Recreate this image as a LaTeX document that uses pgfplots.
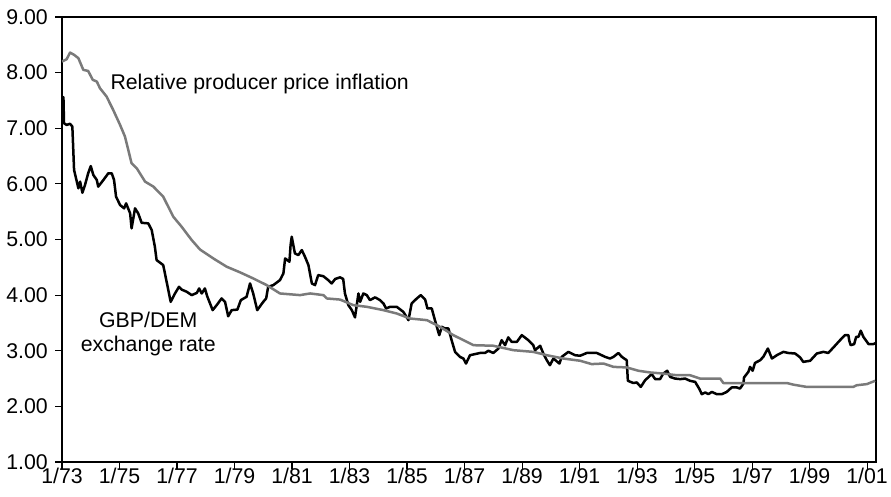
\documentclass[border=0pt]{standalone}
\usepackage{pgfplots}
\pgfplotsset{compat=1.18}
\usepackage{fontspec}
\setmainfont{Liberation Sans}
\definecolor{ppigray}{RGB}{122,122,122}
\pgfplotstableread{
x y
1973.00 8.20
1973.16 8.24
1973.28 8.36
1973.42 8.32
1973.57 8.26
1973.74 8.05
1973.91 8.03
1974.07 7.87
1974.21 7.84
1974.32 7.72
1974.55 7.57
1974.78 7.33
1975.02 7.06
1975.19 6.85
1975.42 6.37
1975.60 6.28
1975.89 6.04
1976.18 5.95
1976.52 5.77
1976.87 5.41
1977.16 5.23
1977.51 4.99
1977.80 4.82
1978.26 4.66
1978.73 4.51
1979.19 4.41
1979.65 4.30
1980.12 4.18
1980.58 4.03
1981.28 4.00
1981.63 4.03
1982.09 4.00
1982.21 3.94
1982.67 3.92
1983.13 3.82
1983.60 3.79
1984.18 3.73
1984.64 3.67
1985.10 3.58
1985.69 3.55
1986.15 3.43
1986.61 3.28
1987.08 3.16
1987.31 3.10
1988.00 3.09
1988.70 3.01
1989.39 2.98
1989.86 2.92
1990.44 2.86
1991.02 2.82
1991.42 2.76
1991.83 2.77
1992.18 2.71
1992.64 2.70
1993.05 2.64
1993.45 2.61
1993.91 2.59
1994.38 2.56
1994.84 2.56
1995.19 2.50
1995.89 2.50
1996.00 2.42
1996.82 2.42
1998.21 2.42
1998.44 2.39
1998.90 2.35
2000.52 2.35
2000.64 2.38
2000.99 2.40
2001.28 2.46
}\ppi
\pgfplotstableread{
x y
1973.00 7.09
1973.05 7.56
1973.07 7.09
1973.16 7.06
1973.28 7.08
1973.36 7.03
1973.42 6.25
1973.57 5.92
1973.63 6.04
1973.71 5.84
1973.80 5.98
1973.91 6.19
1974.00 6.32
1974.09 6.16
1974.21 6.07
1974.26 5.95
1974.44 6.07
1974.61 6.19
1974.73 6.19
1974.81 6.07
1974.88 5.77
1975.02 5.62
1975.16 5.56
1975.23 5.65
1975.37 5.47
1975.42 5.20
1975.54 5.56
1975.65 5.47
1975.77 5.30
1976.00 5.29
1976.12 5.17
1976.23 4.87
1976.29 4.63
1976.52 4.54
1976.58 4.39
1976.78 3.88
1976.93 4.03
1977.07 4.15
1977.16 4.10
1977.34 4.06
1977.51 4.00
1977.69 4.04
1977.77 4.12
1977.86 4.03
1977.97 4.12
1978.05 3.98
1978.24 3.73
1978.38 3.82
1978.55 3.94
1978.67 3.88
1978.78 3.62
1978.90 3.73
1979.10 3.74
1979.22 3.91
1979.42 3.97
1979.54 4.21
1979.65 4.03
1979.79 3.73
1980.00 3.88
1980.10 3.94
1980.17 4.15
1980.35 4.18
1980.58 4.27
1980.70 4.39
1980.76 4.66
1980.91 4.60
1980.95 4.90
1980.99 5.05
1981.10 4.75
1981.22 4.72
1981.34 4.81
1981.45 4.69
1981.57 4.54
1981.69 4.21
1981.80 4.18
1981.91 4.36
1982.09 4.34
1982.26 4.27
1982.38 4.21
1982.50 4.29
1982.67 4.32
1982.78 4.29
1982.84 4.03
1982.96 3.82
1983.08 3.73
1983.19 3.60
1983.31 4.03
1983.37 3.88
1983.48 4.03
1983.60 4.00
1983.71 3.91
1983.89 3.96
1984.06 3.91
1984.18 3.85
1984.27 3.76
1984.41 3.79
1984.64 3.79
1984.87 3.70
1985.05 3.55
1985.16 3.85
1985.34 3.94
1985.48 4.00
1985.63 3.92
1985.71 3.76
1985.86 3.76
1985.97 3.55
1986.12 3.28
1986.21 3.43
1986.32 3.40
1986.44 3.40
1986.55 3.19
1986.67 2.98
1986.84 2.89
1986.96 2.86
1987.05 2.77
1987.19 2.92
1987.54 2.96
1987.71 2.96
1987.83 3.00
1988.00 2.96
1988.18 3.04
1988.29 3.19
1988.41 3.10
1988.52 3.24
1988.64 3.16
1988.82 3.16
1988.99 3.28
1989.22 3.19
1989.39 3.10
1989.45 3.01
1989.63 3.09
1989.74 2.95
1989.86 2.83
1989.97 2.74
1990.09 2.86
1990.30 2.77
1990.38 2.89
1990.61 2.98
1990.84 2.92
1991.02 2.91
1991.25 2.96
1991.60 2.96
1991.89 2.89
1992.06 2.86
1992.18 2.89
1992.35 2.96
1992.47 2.89
1992.64 2.83
1992.68 2.46
1992.87 2.42
1992.99 2.43
1993.13 2.35
1993.28 2.47
1993.51 2.58
1993.63 2.49
1993.80 2.49
1993.91 2.59
1994.05 2.64
1994.15 2.53
1994.32 2.50
1994.50 2.49
1994.67 2.50
1994.84 2.46
1995.02 2.44
1995.17 2.31
1995.25 2.22
1995.37 2.25
1995.48 2.22
1995.60 2.26
1995.77 2.22
1995.95 2.22
1996.12 2.26
1996.29 2.34
1996.47 2.34
1996.58 2.32
1996.70 2.41
1996.72 2.52
1996.87 2.62
1996.93 2.71
1997.02 2.64
1997.10 2.78
1997.28 2.83
1997.39 2.89
1997.55 3.04
1997.69 2.86
1997.86 2.92
1998.09 2.98
1998.26 2.96
1998.50 2.95
1998.67 2.88
1998.78 2.80
1999.02 2.82
1999.25 2.95
1999.48 2.98
1999.65 2.96
1999.83 3.06
2000.06 3.19
2000.23 3.28
2000.35 3.28
2000.38 3.18
2000.43 3.10
2000.55 3.12
2000.62 3.25
2000.70 3.25
2000.78 3.36
2000.87 3.25
2001.05 3.12
2001.22 3.12
2001.30 3.14
}\fx
\begin{document}
\begin{tikzpicture}
\begin{axis}[
  scale only axis,
  width=814bp, height=445bp,
  xmin=1973, xmax=2001.31,
  ymin=1, ymax=9,
  ytick={1,2,...,9},
  xtick={1973,1975,...,2001},
  xticklabels={1/73,1/75,1/77,1/79,1/81,1/83,1/85,1/87,1/89,1/91,1/93,1/95,1/97,1/99,1/01},
  tick align=outside,
  major tick length=7bp,
  xtick pos=bottom, ytick pos=left,
  axis line style={line width=1.2bp, black},
  tick style={line width=1.1bp, black},
  /pgf/number format/.cd, fixed, fixed zerofill, precision=2, assume math mode=true,
  /pgfplots/.cd,
  tick label style={font=\fontsize{21.3bp}{25bp}\selectfont},
  xticklabel style={inner sep=0pt, yshift=1bp},
  yticklabel style={inner sep=0pt, xshift=-7bp},
  clip=true,
]
\addplot[black, line width=2.5bp, line join=round] table[x=x,y=y] {\fx};
\addplot[ppigray, line width=2.5bp, line join=round] table[x=x,y=y] {\ppi};
\node[anchor=base west, inner sep=0pt, font=\fontsize{21.3bp}{25bp}\selectfont] at (axis cs:1974.68,7.688) {Relative producer price inflation};
\node[align=center, inner sep=0pt, font=\fontsize{21.3bp}{23.7bp}\selectfont] at (axis cs:1976.0,3.30) {GBP/DEM\\exchange rate};
\end{axis}
\path (current axis.south west) ++(-62bp,-35bp) rectangle ([shift={(15bp,17bp)}]current axis.north east);
\end{tikzpicture}
\end{document}
